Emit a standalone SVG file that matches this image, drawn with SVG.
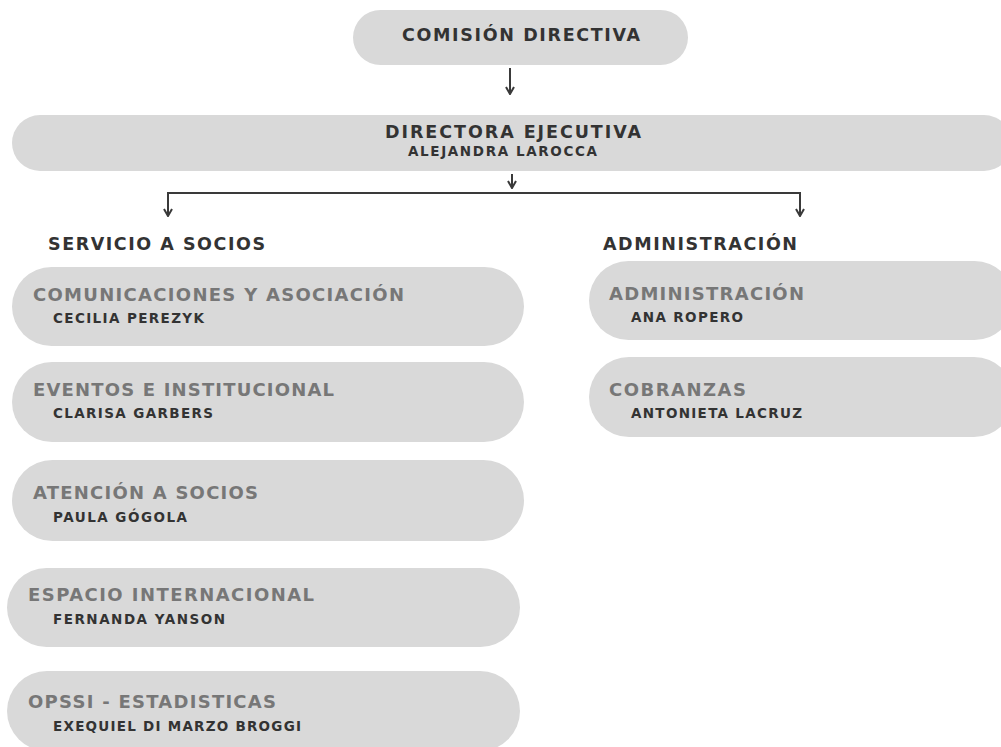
<svg xmlns="http://www.w3.org/2000/svg" width="1001" height="747" viewBox="0 0 1001 747">
<style>
.box{fill:#d9d9d9}
.t{font-family:"DejaVu Sans","Liberation Sans",sans-serif;font-weight:bold}
.head{fill:#333333;font-size:17.5px}
.title{fill:#777777;font-size:18px}
.name{fill:#333333;font-size:13.5px}
.conn{stroke:#3a3a3a;stroke-width:2;fill:none}
</style>
<defs>
<marker id="arr" viewBox="0 0 10 10" refX="9" refY="5" markerWidth="10" markerHeight="10" markerUnits="userSpaceOnUse" orient="auto">
<path d="M2,1 L9,5 L2,9" fill="none" stroke="#3a3a3a" stroke-width="2"/>
</marker>
</defs>
<rect width="1001" height="747" fill="#ffffff"/>
<g id="connectors">
<line class="conn" x1="510" y1="68" x2="510" y2="94" marker-end="url(#arr)"/>
<line class="conn" x1="512" y1="174" x2="512" y2="188" marker-end="url(#arr)"/>
<polyline class="conn" points="168,193 800,193 800,216" marker-end="url(#arr)"/>
<line class="conn" x1="168" y1="192" x2="168" y2="216" marker-end="url(#arr)"/>
</g>
<g id="comision">
<rect class="box" x="353" y="10" width="335" height="55" rx="27.5"/>
<text class="t head" x="402" y="41" textLength="238" lengthAdjust="spacing">COMISIÓN DIRECTIVA</text>
</g>
<g id="directora">
<rect class="box" x="12" y="115" width="1000" height="56" rx="28"/>
<text class="t head" x="385" y="138" textLength="256" lengthAdjust="spacing">DIRECTORA EJECUTIVA</text>
<text class="t name" x="408" y="156" textLength="189" lengthAdjust="spacing">ALEJANDRA LAROCCA</text>
</g>
<g id="servicio-header">
<text class="t head" x="48" y="250" textLength="217" lengthAdjust="spacing">SERVICIO A SOCIOS</text>
</g>
<g id="administracion-header">
<text class="t head" x="603" y="250" textLength="194" lengthAdjust="spacing">ADMINISTRACIÓN</text>
</g>
<g id="comunicaciones">
<rect class="box" x="12" y="267" width="512" height="79" rx="39.5"/>
<text class="t title" x="33" y="301" textLength="371" lengthAdjust="spacing">COMUNICACIONES Y ASOCIACIÓN</text>
<text class="t name" x="53" y="323" textLength="151" lengthAdjust="spacing">CECILIA PEREZYK</text>
</g>
<g id="eventos">
<rect class="box" x="12" y="362" width="512" height="80" rx="40"/>
<text class="t title" x="33" y="396" textLength="301" lengthAdjust="spacing">EVENTOS E INSTITUCIONAL</text>
<text class="t name" x="53" y="418" textLength="160" lengthAdjust="spacing">CLARISA GARBERS</text>
</g>
<g id="atencion">
<rect class="box" x="12" y="460" width="512" height="81" rx="40.5"/>
<text class="t title" x="33" y="499" textLength="225" lengthAdjust="spacing">ATENCIÓN A SOCIOS</text>
<text class="t name" x="53" y="522" textLength="134" lengthAdjust="spacing">PAULA GÓGOLA</text>
</g>
<g id="espacio">
<rect class="box" x="7" y="568" width="513" height="79" rx="39.5"/>
<text class="t title" x="28" y="601" textLength="286" lengthAdjust="spacing">ESPACIO INTERNACIONAL</text>
<text class="t name" x="53" y="624" textLength="172" lengthAdjust="spacing">FERNANDA YANSON</text>
</g>
<g id="opssi">
<rect class="box" x="7" y="671" width="513" height="80" rx="40"/>
<text class="t title" x="28" y="708" textLength="248" lengthAdjust="spacing">OPSSI - ESTADISTICAS</text>
<text class="t name" x="53" y="731" textLength="248" lengthAdjust="spacing">EXEQUIEL DI MARZO BROGGI</text>
</g>
<g id="administracion">
<rect class="box" x="589" y="261" width="425" height="79" rx="39.5"/>
<text class="t title" x="609" y="300" textLength="195" lengthAdjust="spacing">ADMINISTRACIÓN</text>
<text class="t name" x="631" y="322" textLength="112" lengthAdjust="spacing">ANA ROPERO</text>
</g>
<g id="cobranzas">
<rect class="box" x="589" y="357" width="425" height="80" rx="40"/>
<text class="t title" x="609" y="396" textLength="137" lengthAdjust="spacing">COBRANZAS</text>
<text class="t name" x="631" y="418" textLength="171" lengthAdjust="spacing">ANTONIETA LACRUZ</text>
</g>
</svg>
